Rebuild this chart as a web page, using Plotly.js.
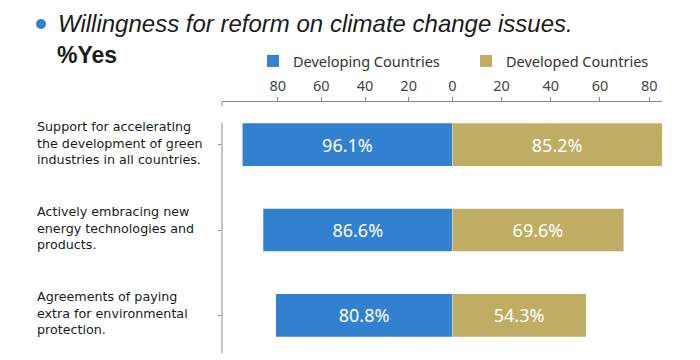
<!DOCTYPE html>
<html>
<head>
<meta charset="utf-8">
<script src="https://cdn.plot.ly/plotly-3.0.1.min.js"></script>
<style>html,body{margin:0;padding:0;background:#fff;}#chart{width:700px;height:360px;}</style>
</head>
<body>
<div id="chart"></div>
<script>
const categories = [
  "Support for accelerating<br>the development of green<br>industries in all countries.",
  "Actively embracing new<br>energy technologies and<br>products.",
  "Agreements of paying<br>extra for environmental<br>protection."
];
const developing = [96.1, 86.6, 80.8];
const developed = [85.2, 69.6, 54.3];
const seriesNames = ["Developing Countries", "Developed Countries"];
const leftTicks = [0, 20, 40, 60, 80];
const rightTicks = [20, 40, 60, 80];
const titleText = "Willingness for reform on climate change issues.";
const subTitle = "%Yes";

const BLUE = "#3280D0";
const GOLD = "#BFAD63";
const txtFont = "Noto Sans, Open Sans, sans-serif";

const traces = [
  {
    type: "bar", orientation: "h", name: seriesNames[0],
    y: categories, x: developing, xaxis: "x", yaxis: "y",
    marker: {color: BLUE},
    texttemplate: "%{x:.1f}%", textposition: "inside", insidetextanchor: "middle",
    textfont: {color: "#ffffff", size: 18, family: txtFont},
    hoverinfo: "skip"
  },
  {
    type: "bar", orientation: "h", name: seriesNames[1],
    y: categories, x: developed, xaxis: "x2", yaxis: "y",
    marker: {color: GOLD},
    texttemplate: "%{x:.1f}%", textposition: "inside", insidetextanchor: "middle",
    textfont: {color: "#ffffff", size: 18, family: txtFont},
    hoverinfo: "skip"
  }
];

// layout geometry
const W = 700, H = 360;
const mL = 222, mR = 38, mT = 102, mB = 2;
const pw = W - mL - mR, ph = H - mT - mB;
const zeroPx = 452.3;
const split = (zeroPx - mL) / pw;
const px2x = p => (p - mL) / pw;
const py2y = p => (H - mB - p) / ph;

const axisCommon = {
  side: "top", showgrid: false, zeroline: false, showline: true,
  linecolor: "#8a8a8a", linewidth: 1, ticks: "outside", ticklen: 4, tickcolor: "#8a8a8a",
  tickfont: {family: txtFont, size: 14.5, color: "#444"}, fixedrange: true
};

const annotations = [];
categories.forEach((c) => {
  annotations.push({
    xref: "paper", yref: "y", x: px2x(35), y: c, xanchor: "left", yanchor: "middle",
    text: c, showarrow: false, align: "left", yshift: 2,
    font: {family: "'DejaVu Sans', sans-serif", size: 12.7, color: "#1a1a1a"}
  });
});
annotations.push({
  xref: "paper", yref: "paper", x: px2x(55), y: py2y(55), xanchor: "left", yanchor: "middle",
  text: "<b>" + subTitle + "</b>", showarrow: false,
  font: {family: "Liberation Sans, Arial, sans-serif", size: 23, color: "#1a1a1a"}
});
annotations.push({
  xref: "paper", yref: "paper", x: px2x(56), y: py2y(23), xanchor: "left", yanchor: "middle",
  text: "<i>" + titleText + "</i>", showarrow: false,
  font: {family: "Liberation Sans, Arial, sans-serif", size: 24, color: "#1a1a1a"}
});

const shapes = [
  {type: "circle", xref: "paper", yref: "paper",
   x0: px2x(36), x1: px2x(46), y0: py2y(29), y1: py2y(19),
   fillcolor: BLUE, line: {width: 0}},
  {type: "line", xref: "paper", yref: "paper", x0: 0, x1: 0,
   y0: py2y(353), y1: py2y(123), line: {color: "#8a8a8a", width: 1}},
  {type: "line", xref: "paper", yref: "paper", x0: 0, x1: 0,
   y0: 1, y1: py2y(106), line: {color: "#8a8a8a", width: 1}}
];

const layout = {
  width: W, height: H,
  margin: {l: mL, r: mR, t: mT, b: mB},
  paper_bgcolor: "#ffffff", plot_bgcolor: "#ffffff",
  bargap: 0.5,
  showlegend: true,
  legend: {orientation: "h", x: px2x(253), xanchor: "left", y: py2y(61), yanchor: "middle",
           entrywidth: 168, entrywidthmode: "pixels",
           font: {family: txtFont, size: 14.5, color: "#333"}, bgcolor: "rgba(0,0,0,0)"},
  xaxis: Object.assign({}, axisCommon, {
    domain: [0, split], range: [(zeroPx - mL) / 2.1825, 0],
    tickvals: leftTicks, ticktext: leftTicks.map(String), anchor: "y"
  }),
  xaxis2: Object.assign({}, axisCommon, {
    domain: [split, 1], range: [0, 85.2],
    tickvals: rightTicks, ticktext: rightTicks.map(String), anchor: "y"
  }),
  yaxis: {
    type: "category", categoryorder: "array", categoryarray: categories,
    range: [categories.length - 0.5, -0.5],
    showticklabels: false, showgrid: false, zeroline: false, showline: false,
    ticks: "outside", ticklen: 3, tickcolor: "#8a8a8a", fixedrange: true
  },
  annotations: annotations,
  shapes: shapes
};

Plotly.newPlot("chart", traces, layout, {displayModeBar: false, staticPlot: true});
</script>
</body>
</html>
